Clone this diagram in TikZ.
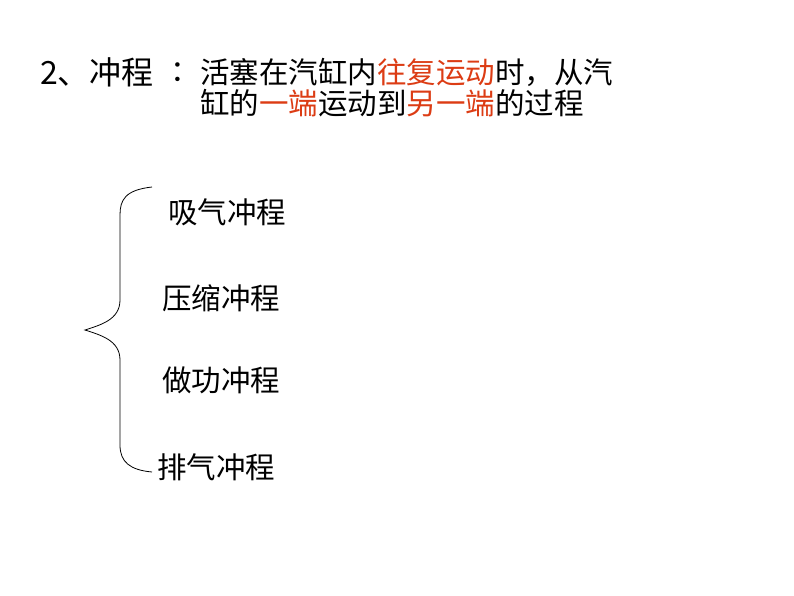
\documentclass[tikz,border=0pt]{standalone}
\usepackage{fontspec}
\setmainfont{Noto Sans CJK SC}
\definecolor{hl}{RGB}{220,60,20}
\begin{document}
\begin{tikzpicture}[x=1pt,y=-1pt,
  lab/.style={anchor=west,inner sep=0pt,font=\fontsize{29.5}{31}\selectfont}]
\useasboundingbox (0,0) rectangle (794,596);
\node[lab,font=\fontsize{32}{34}\selectfont] (t) at (40,72) {2、冲程};
\node[lab] (col) at (170,72) {：};
\node[lab] (l1) at (200,72) {活塞在汽缸内\textcolor{hl}{往复运动}时，从汽};
\node[lab] (l2) at (200,103) {缸的\textcolor{hl}{一端}运动到\textcolor{hl}{另一端}的过程};
\draw[line width=0.8pt] (152,187) .. controls (125,190) and (120,200) .. (120,215)
  -- (120,300) .. controls (120,320) and (100,325) .. (85,330)
  .. controls (100,335) and (120,340) .. (120,360)
  -- (120,445) .. controls (120,462) and (130,470) .. (152,472);
\node[lab] (a) at (168,212) {吸气冲程};
\node[lab] (b) at (162,298) {压缩冲程};
\node[lab] (c) at (162,380) {做功冲程};
\node[lab] (d) at (157,467) {排气冲程};
\end{tikzpicture}
\end{document}
